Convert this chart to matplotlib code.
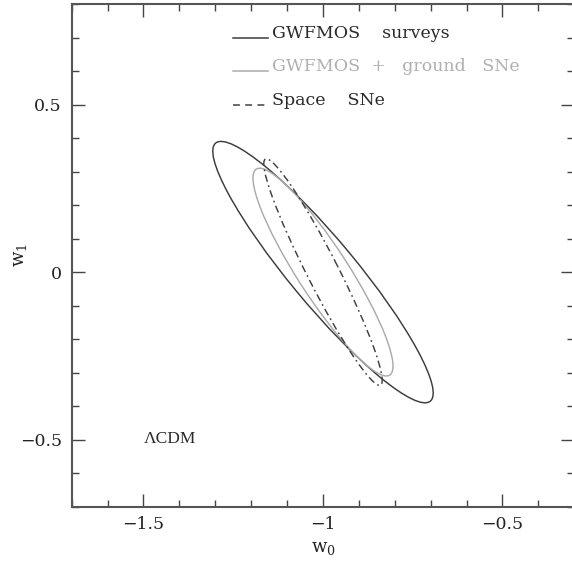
import matplotlib
matplotlib.use("Agg")
import matplotlib.pyplot as plt
import numpy as np
from matplotlib.patches import Ellipse

# contour parameters: centre, 1-sigma-like extents, correlation
names = ['GWFMOS    surveys', 'GWFMOS  +   ground   SNe', 'Space    SNe']
cen_w0 = [-1.0, -1.0, -1.0]
cen_w1 = [0.0, 0.0, 0.0]
sig_w0 = [0.307, 0.195, 0.165]
sig_w1 = [0.390, 0.310, 0.338]
rho = [-0.925, -0.905, -0.955]

line_cols = ['#3c3c3c', '#ababab', '#404040']
text_cols = ['#2a2a2a', '#b0b0b0', '#2a2a2a']
contour_ls = ['-', '-', (0, (5, 2.5, 1.2, 2.5))]
legend_ls = ['-', '-', (0, (4.5, 3.5))]

# legend rows (data coords, as in the original hand-placed key)
key_y = [0.7, 0.6, 0.5]
key_x = [-1.25, -1.153]
key_text_x = -1.143

plt.rcParams['font.family'] = ['DejaVu Serif']
plt.rcParams['mathtext.fontset'] = 'dejavuserif'


def cov_ellipse(cx, cy, sx, sy, r, **kw):
    cov = np.array([[sx**2, r*sx*sy], [r*sx*sy, sy**2]])
    vals, vecs = np.linalg.eigh(cov)
    order = vals.argsort()[::-1]
    vals, vecs = vals[order], vecs[:, order]
    ang = np.degrees(np.arctan2(vecs[1, 0], vecs[0, 0]))
    return Ellipse((cx, cy), 2*np.sqrt(vals[0]), 2*np.sqrt(vals[1]),
                   angle=ang, fill=False, **kw)


fig = plt.figure(figsize=(5.72, 5.69), dpi=100)
ax = fig.add_axes([71.7/572, 1 - 506.7/569, (574.3 - 71.7)/572, (506.7 - 4)/569])

for i in range(3):
    ax.add_patch(cov_ellipse(cen_w0[i], cen_w1[i], sig_w0[i], sig_w1[i], rho[i],
                             edgecolor=line_cols[i], linestyle=contour_ls[i],
                             linewidth=1.05))

for i in range(3):
    ax.plot(key_x, [key_y[i], key_y[i]], color=line_cols[i],
            linestyle=legend_ls[i], linewidth=1.1)
    ax.text(key_text_x, key_y[i], names[i], color=text_cols[i],
            fontsize=12.5, ha='left', va='baseline')

ax.text(-1.5, -0.497, '\u039bCDM', family='Liberation Serif', fontsize=12.5,
        color='#2a2a2a', ha='left', va='center')

ax.set_xlim(-1.7, -0.3)
ax.set_ylim(-0.7, 0.8)
ax.set_xticks([-1.5, -1, -0.5])
ax.set_xticklabels(['\u22121.5', '\u22121', '\u22120.5'])
ax.set_yticks([-0.5, 0, 0.5])
ax.set_yticklabels(['\u22120.5', '0', '0.5'])
ax.set_xticks(np.arange(-1.7, -0.29, 0.1), minor=True)
ax.set_yticks(np.arange(-0.7, 0.81, 0.1), minor=True)
ax.tick_params(which='both', direction='in', top=True, right=True,
               colors='#444444', labelcolor='#222222', labelsize=12.5)
ax.tick_params(which='major', length=9.5, width=1.0, pad=7)
ax.tick_params(which='minor', length=4.8, width=1.0)
for s in ax.spines.values():
    s.set_linewidth(1.5)
    s.set_color('#555555')

ax.set_xlabel(r'$\mathrm{w}_0$', fontsize=13, color='#222222')
ax.set_ylabel(r'$\mathrm{w}_1$', fontsize=13, color='#222222')
ax.xaxis.set_label_coords(0.5, -0.064)
ax.yaxis.set_label_coords(-0.085, 0.5)

fig.savefig('out.png', dpi=100)
